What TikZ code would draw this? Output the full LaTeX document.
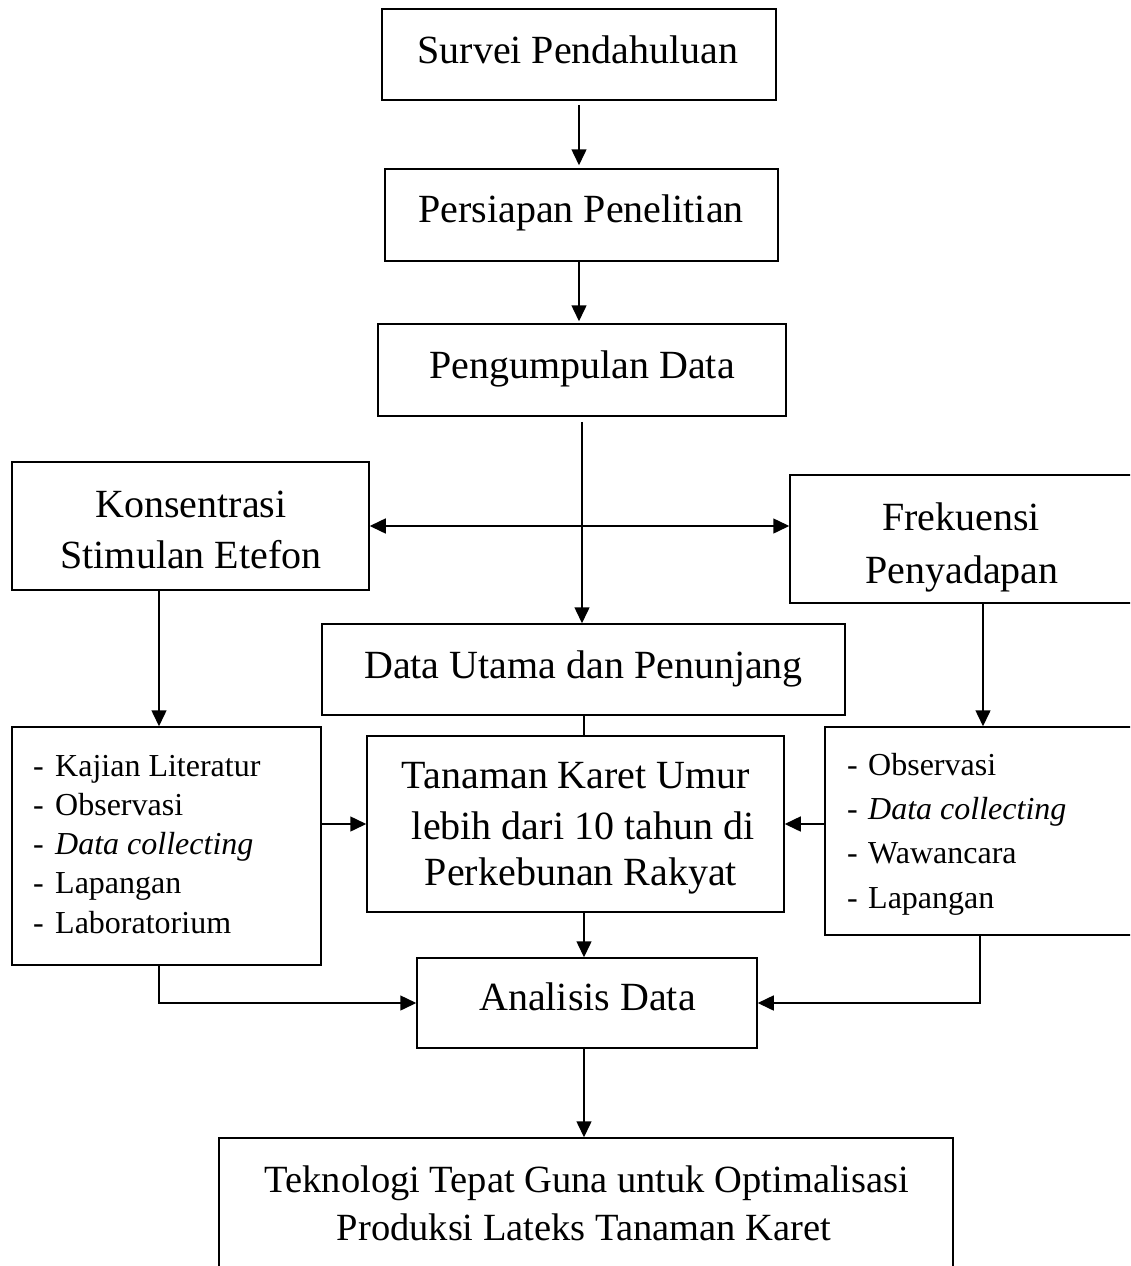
\documentclass[tikz,border=0pt]{standalone}
\usepackage{fontspec}
\setmainfont{Liberation Serif}
\usetikzlibrary{arrows.meta}
\begin{document}
\begin{tikzpicture}[x=1pt,y=-1pt,
  box/.style={draw=black,line width=1.5pt,rectangle,inner sep=0pt,fill=none},
  big/.style={anchor=base,inner sep=0pt,font=\fontsize{40}{48}\selectfont},
  bigl/.style={anchor=base,inner sep=0pt,font=\fontsize{38.5}{46}\selectfont},
  small/.style={anchor=base west,inner sep=0pt,font=\fontsize{32}{38}\selectfont},
  conn/.style={line width=1.5pt},
  arr/.style={conn,-{Triangle[length=16pt,width=15pt]}},
  darr/.style={conn,{Triangle[length=16pt,width=15pt]}-{Triangle[length=16pt,width=15pt]}}]
\useasboundingbox (0,0) rectangle (1130,1266);
\fill[white] (0,0) rectangle (1130,1266);
\clip (0,0) rectangle (1130,1266);

% boxes
\node[box,minimum width=394pt,minimum height=91pt] (survei) at (579,54.5) {};
\node[box,minimum width=393pt,minimum height=92pt] (persiapan) at (581.5,215) {};
\node[box,minimum width=408pt,minimum height=92pt] (pengumpulan) at (582,370) {};
\node[box,minimum width=357pt,minimum height=128pt] (konsentrasi) at (190.5,526) {};
\node[box,minimum width=370pt,minimum height=128pt] (frekuensi) at (975,539) {};
\node[box,minimum width=523pt,minimum height=91pt] (datautama) at (583.5,669.5) {};
\node[box,minimum width=309pt,minimum height=238pt] (leftlist) at (166.5,846) {};
\node[box,minimum width=417pt,minimum height=176pt] (tanaman) at (575.5,824) {};
\node[box,minimum width=335pt,minimum height=208pt] (rightlist) at (992.5,831) {};
\node[box,minimum width=340pt,minimum height=90pt] (analisis) at (587,1003) {};
\node[box,minimum width=734pt,minimum height=162pt] (teknologi) at (586,1219) {};

% texts
\node[big] (t1) at (578,63) {Survei Pendahuluan};
\node[big] (t2) at (581,222) {Persiapan Penelitian};
\node[big] (t3) at (582,378) {Pengumpulan Data};
\node[big] (t4a) at (191,517) {Konsentrasi};
\node[big] (t4b) at (191,568) {Stimulan Etefon};
\node[big] (t5a) at (961,530) {Frekuensi};
\node[big] (t5b) at (962,583) {Penyadapan};
\node[big] (t6) at (583.5,678) {Data Utama dan Penunjang};
\node[big] (t7a) at (576,788) {Tanaman Karet Umur};
\node[big] (t7b) at (583,839) {lebih dari 10 tahun di};
\node[big] (t7c) at (581,885) {Perkebunan Rakyat};
\node[big] (t8) at (587.5,1010) {Analisis Data};
\node[bigl] (t9a) at (587,1192) {Teknologi Tepat Guna untuk Optimalisasi};
\node[bigl] (t9b) at (584,1240) {Produksi Lateks Tanaman Karet};

% left list
\node[small] (ld1) at (33,776) {-};
\node[small] (ll1) at (55,776) {Kajian Literatur};
\node[small] (ld2) at (33,815) {-};
\node[small] (ll2) at (55,815) {Observasi};
\node[small] (ld3) at (33,854) {-};
\node[small] (ll3) at (55,854) {\textit{Data collecting}};
\node[small] (ld4) at (33,893) {-};
\node[small] (ll4) at (55,893) {Lapangan};
\node[small] (ld5) at (33,933) {-};
\node[small] (ll5) at (55,933) {Laboratorium};

% right list
\node[small] (rd1) at (847,775) {-};
\node[small] (rl1) at (868,775) {Observasi};
\node[small] (rd2) at (847,819) {-};
\node[small] (rl2) at (868,819) {\textit{Data collecting}};
\node[small] (rd3) at (847,863) {-};
\node[small] (rl3) at (868,863) {Wawancara};
\node[small] (rd4) at (847,908) {-};
\node[small] (rl4) at (868,908) {Lapangan};

% helper coordinates
\coordinate (cx) at (579,0);
\coordinate (dx) at (582,0);
\coordinate (mx) at (584,0);
\coordinate (kx) at (159,0);
\coordinate (fx) at (983,0);
\coordinate (rx) at (980,0);

% connectors
\draw[arr,shorten <=4pt,shorten >=3pt] (cx |- survei.south) -- (cx |- persiapan.north);
\draw[arr,shorten >=2pt] (cx |- persiapan.south) -- (cx |- pengumpulan.north);
\draw[arr,shorten <=5pt] (dx |- pengumpulan.south) -- (dx |- datautama.north);
\draw[darr] (konsentrasi.east) -- (konsentrasi.east -| frekuensi.west);
\draw[arr] (kx |- konsentrasi.south) -- (kx |- leftlist.north);
\draw[arr] (fx |- frekuensi.south) -- (fx |- rightlist.north);
\draw[conn] (mx |- datautama.south) -- (mx |- tanaman.north);
\draw[arr] (tanaman.west -| leftlist.east) -- (tanaman.west);
\draw[arr] (tanaman.east -| rightlist.west) -- (tanaman.east);
\draw[arr] (mx |- tanaman.south) -- (mx |- analisis.north);
\draw[arr] (kx |- leftlist.south) |- (analisis.west);
\draw[arr] (rx |- rightlist.south) |- (analisis.east);
\draw[arr] (mx |- analisis.south) -- (mx |- teknologi.north);
\end{tikzpicture}
\end{document}
